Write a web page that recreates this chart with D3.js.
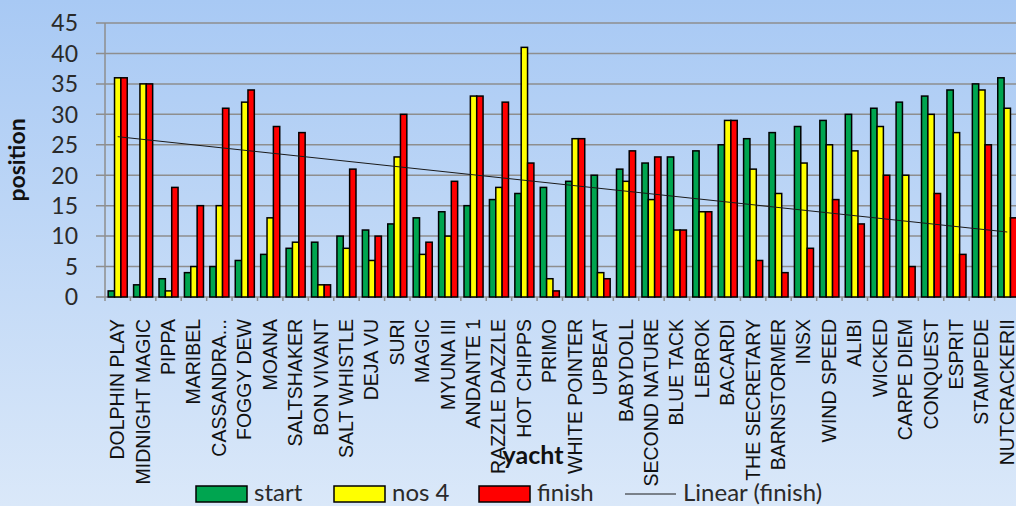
<!DOCTYPE html>
<html>
<head>
<meta charset="utf-8">
<script src="https://cdn.jsdelivr.net/npm/d3@7"></script>
<style>
  html, body { margin: 0; padding: 0; }
  body { width: 1016px; height: 506px; overflow: hidden; }
</style>
</head>
<body>
<svg id="chart" width="1016" height="506"></svg>
<script>
// yachts in finishing-order of start
const yachts = ["DOLPHIN PLAY", "MIDNIGHT MAGIC", "PIPPA", "MARIBEL", "CASSANDRA...", "FOGGY DEW",
  "MOANA", "SALTSHAKER", "BON VIVANT", "SALT WHISTLE", "DEJA VU", "SURI", "MAGIC", "MYUNA III",
  "ANDANTE 1", "RAZZLE DAZZLE", "HOT CHIPPS", "PRIMO", "WHITE POINTER", "UPBEAT", "BABYDOLL",
  "SECOND NATURE", "BLUE TACK", "LEBROK", "BACARDI", "THE SECRETARY", "BARNSTORMER", "INSX",
  "WIND SPEED", "ALIBI", "WICKED", "CARPE DIEM", "CONQUEST", "ESPRIT", "STAMPEDE", "NUTCRACKERII"];

const start  = [1, 2, 3, 4, 5, 6, 7, 8, 9, 10, 11, 12, 13, 14, 15, 16, 17, 18,
  19, 20, 21, 22, 23, 24, 25, 26, 27, 28, 29, 30, 31, 32, 33, 34, 35, 36];
const nos4   = [36, 35, 1, 5, 15, 32, 13, 9, 2, 8, 6, 23, 7, 10, 33, 18, 41, 3,
  26, 4, 19, 16, 11, 14, 29, 21, 17, 22, 25, 24, 28, 20, 30, 27, 34, 31];
const finish = [36, 35, 18, 15, 31, 34, 28, 27, 2, 21, 10, 30, 9, 19, 33, 32, 22, 1,
  26, 3, 24, 23, 11, 14, 29, 6, 4, 8, 16, 12, 20, 5, 17, 7, 25, 13];

const seriesNames = ["start", "nos 4", "finish"];
const seriesColors = ["#00a550", "#ffff00", "#ff0000"];
const yTicks = [0, 5, 10, 15, 20, 25, 30, 35, 40, 45];

const rows = yachts.map((name, i) => ({ name, vals: [start[i], nos4[i], finish[i]] }));

const svg = d3.select("#chart");

// background gradient
const defs = svg.append("defs");
const grad = defs.append("linearGradient").attr("id", "bg")
  .attr("x1", 0).attr("y1", 0).attr("x2", 0).attr("y2", 1);
grad.append("stop").attr("offset", "0%").attr("stop-color", "#a8c9f4");
grad.append("stop").attr("offset", "100%").attr("stop-color", "#dae8f9");
svg.append("rect").attr("width", 1016).attr("height", 506).attr("fill", "url(#bg)");

const plotLeft = 105, plotRight = 1020, plotTop = 23, plotBottom = 297;

const x = d3.scaleBand().domain(yachts).range([plotLeft, plotRight]).paddingInner(0).paddingOuter(0);
const inner = d3.scaleBand().domain([0, 1, 2]).range([0, x.bandwidth()]).paddingInner(0).paddingOuter(0.5);
const y = d3.scaleLinear().domain([0, 45]).range([plotBottom, plotTop]);

// gridlines
svg.append("g").selectAll("line").data(yTicks).join("line")
  .attr("x1", plotLeft - 9).attr("x2", plotRight)
  .attr("y1", d => y(d)).attr("y2", d => y(d))
  .attr("stroke", "#8e8e8e").attr("stroke-width", 1.5);

// y axis
svg.append("line").attr("x1", plotLeft).attr("x2", plotLeft).attr("y1", plotTop).attr("y2", plotBottom)
  .attr("stroke", "#8e8e8e").attr("stroke-width", 1.5);
svg.append("g").selectAll("text").data(yTicks).join("text")
  .attr("x", 78).attr("y", d => y(d)).attr("dy", "0.36em")
  .attr("text-anchor", "end")
  .attr("font-family", "Lato, 'Open Sans', sans-serif").attr("font-size", 23)
  .attr("fill", "#2a2a2a")
  .text(d => d);

// x category ticks
svg.append("g").selectAll("line").data(d3.range(yachts.length + 1)).join("line")
  .attr("x1", i => plotLeft + i * x.step()).attr("x2", i => plotLeft + i * x.step())
  .attr("y1", plotBottom).attr("y2", plotBottom + 4)
  .attr("stroke", "#8e8e8e").attr("stroke-width", 1.5);

// bars
const groups = svg.append("g").selectAll("g").data(rows).join("g")
  .attr("transform", d => `translate(${x(d.name)},0)`);
groups.selectAll("rect").data(d => d.vals).join("rect")
  .attr("x", (v, i) => inner(i))
  .attr("width", inner.bandwidth())
  .attr("y", v => y(v))
  .attr("height", v => plotBottom - y(v))
  .attr("fill", (v, i) => seriesColors[i])
  .attr("stroke", "#000").attr("stroke-width", 1.5);

// linear trendline of finish
const xs = finish.map((v, i) => i + 1);
const n = xs.length;
const mx = d3.mean(xs), my = d3.mean(finish);
const slope = d3.sum(xs, (xi, i) => (xi - mx) * (finish[i] - my)) / d3.sum(xs, xi => (xi - mx) ** 2);
const icpt = my - slope * mx;
const cx = i => x(yachts[i]) + x.bandwidth() / 2;
svg.append("line")
  .attr("x1", cx(0)).attr("y1", y(icpt + slope * 1))
  .attr("x2", cx(n - 1)).attr("y2", y(icpt + slope * n))
  .attr("stroke", "#1a1a1a").attr("stroke-width", 1);

// category labels
svg.append("g").selectAll("text").data(yachts).join("text")
  .attr("transform", d => `translate(${x(d) + x.bandwidth() / 2 + 6.5},319) rotate(-90)`)
  .attr("text-anchor", "end")
  .attr("font-family", "'Liberation Sans', Arial, sans-serif").attr("font-size", 19.5)
  .attr("fill", "#111")
  .text(d => d);

// axis titles
svg.append("text")
  .attr("transform", "translate(25,160) rotate(-90)")
  .attr("text-anchor", "middle")
  .attr("font-family", "Lato, 'Open Sans', sans-serif").attr("font-weight", "bold")
  .attr("font-size", 23).attr("fill", "#111")
  .text("position");
svg.append("text")
  .attr("x", 533).attr("y", 464)
  .attr("text-anchor", "middle")
  .attr("font-family", "Lato, 'Open Sans', sans-serif").attr("font-weight", "bold")
  .attr("font-size", 25).attr("fill", "#111")
  .text("yacht");

// legend
const legendX = [196, 334, 479];
const lg = svg.append("g");
seriesNames.forEach((s, i) => {
  lg.append("rect").attr("x", legendX[i]).attr("y", 486).attr("width", 51).attr("height", 16)
    .attr("fill", seriesColors[i]).attr("stroke", "#000").attr("stroke-width", 1.5);
  lg.append("text").attr("x", legendX[i] + 58).attr("y", 501)
    .attr("font-family", "Lato, 'Open Sans', sans-serif").attr("font-size", 24).attr("fill", "#2a2a2a")
    .text(s);
});
lg.append("line").attr("x1", 625).attr("x2", 676).attr("y1", 494).attr("y2", 494)
  .attr("stroke", "#1a1a1a").attr("stroke-width", 1);
lg.append("text").attr("x", 683).attr("y", 501)
  .attr("font-family", "Lato, 'Open Sans', sans-serif").attr("font-size", 24).attr("fill", "#2a2a2a")
  .text("Linear (finish)");
</script>
</body>
</html>
